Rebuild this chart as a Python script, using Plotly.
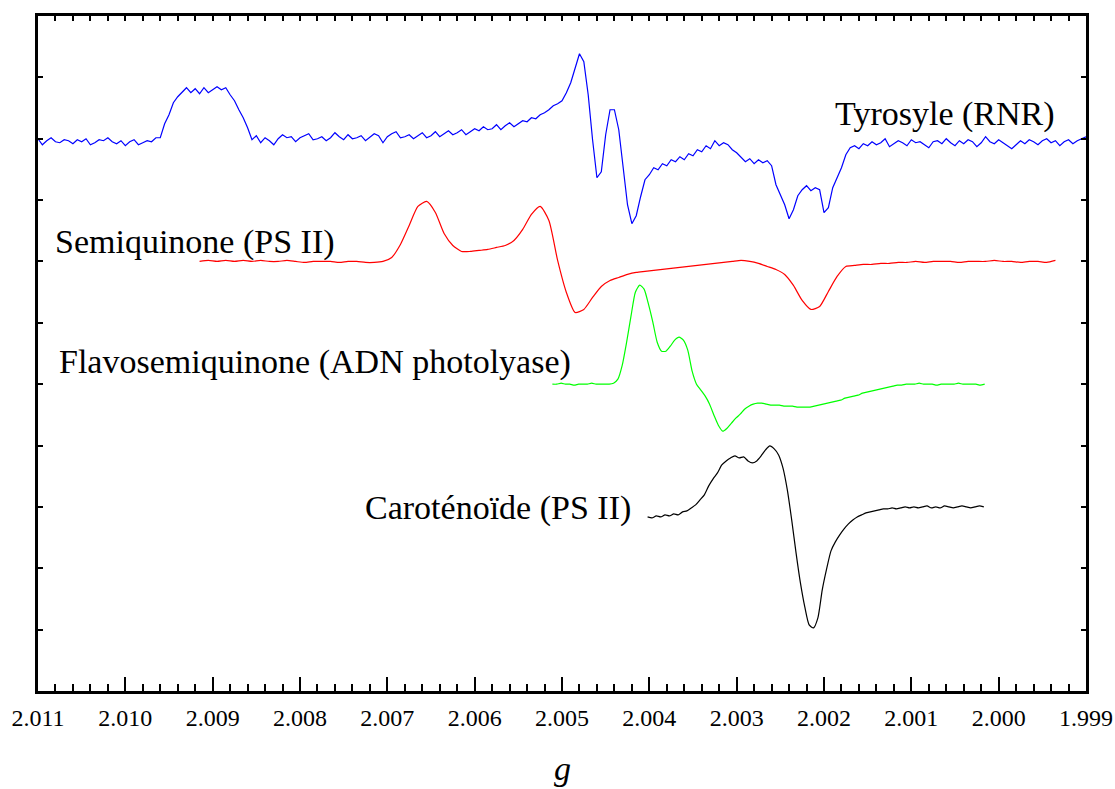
import numpy as np
import plotly.graph_objects as go

# ---- sweep of each spectrum (g value of first point, g step) ----
tyr_g0, tyr_dg = 2.01100, -0.00005
sq_g0, sq_dg = 2.00915, -0.0001
flv_g0, flv_dg = 2.00511, -0.00005
car_g0, car_dg = 2.00402, -0.00005

# ---- intensities (arbitrary units, relative to each baseline) ----
tyrosyl = [
    0, -6, -2, 1, -3, -4, -1, -2, -5, -1, -3, 0, -6, -4, -1, -2, 1, -3, -5, -2, -7, -3, -1, -6, -4, -2, -3, 1,
    1, 15, 24, 36, 42, 47, 51, 46, 50, 45, 51, 46, 49, 52, 49, 51, 44, 38, 29, 21, 11, -1, 3,
    -4, 1, -2, -6, 0, 4, 1, 2, -3, 1,
    3, 5, -1, 0, 2, -2, 1, 6, 2, -1,
    4, 0, 1, 3, -2, 2, 5, 3, -4, 2,
    5, 7, 1, 2, 4, 0, 3, 6, 1, 3,
    7, 2, 5, 8, 4, 6, 9, 4, 7, 10,
    8, 12, 9, 10, 14, 9, 13, 16, 12, 15,
    18, 17, 21, 20, 24, 26, 29, 33, 35, 38,
    46, 56, 71, 85, 77, 44, -1, -39, -33, 4,
    29, 29, 9, -31, -66, -85, -77, -58, -41, -36,
    -29, -31, -25, -27, -21, -23, -18, -21, -15, -17,
    -11, -13, -7, -10, -2, -7, -4, -6, -11, -14,
    -19, -23, -20, -25, -21, -24, -22, -27, -46, -57,
    -66, -80, -71, -57, -51, -47, -52, -49, -51, -74,
    -69, -49, -39, -29, -16, -9, -7, -10, -5, -7,
    -3, -6, -4, 0, -8, -5, -2, -4, -7, -1,
    -4, -3, -6, -9, -3, -2, -5, 0, -4, -7,
    -2, -5, -1, -3, -8, -4, 2, -3, -5, -1,
    -4, -7, -10, -6, -2, -5, -1, -3, -6, -2,
    0, -4, -2, -7, -3, -1, -5, -2, 0, 2,
]

semiquinone = [
    0, 1, 0, 1, 0, 1, 0, 1, 0, 0, 1, 0, -1, 0, 0, 0, -1, 0, 0, -1, -1, 0,
    4, 17, 36, 55, 60, 49, 28, 16, 10, 10, 11, 12, 14, 16, 21, 32, 47, 55, 41,
    1, -31, -51, -48, -36, -25, -19, -16, -13, -11, -10, -9, -8, -7, -6, -5, -4, -3, -2, -1,
    0, 1, 0, -2, -5, -8, -13, -24, -39, -48, -45, -30, -15, -5, -4, -3, -3, -2, -2, -1,
    -1, 0, -1, 0, 0, 0, -1, 0, 0, 0, 1, 0, 0, -1, 0, 0, -1, 1,
]

flavosemiquinone = [
    0, 0, 1, 0, 0, -1, 0, 0, 0, 1, 0, 0, 0, 0, 1, 5,
    19, 42, 68, 92, 99, 95, 80, 62, 42, 33, 33, 38, 44, 47, 44, 34, 13, 0,
    -6, -12, -20, -31, -41, -47, -44, -39, -34, -30, -25, -22, -20, -19, -19, -20, -21,
    -21, -21, -22, -22, -22, -23, -23, -23, -23, -22, -21, -20, -19, -18, -17, -16, -14,
    -13, -12, -11, -9, -8, -7, -6, -5, -4, -3, -2, -1, -1, 0,
    0, 0, 1, 0, 0, 0, -1, 0, 0, 0, 0, 1, 0, 0, 0, 0, -1, 0,
]

carotenoid = [
    -10, -11, -9, -10, -8, -9, -7, -8, -5, -4,
    -1, 2, 7, 12, 21, 28, 34, 42, 46, 49,
    51, 49, 50, 46, 44, 46, 51, 57, 61, 58,
    52, 39, 17, -13, -46, -76, -100, -118, -121, -111,
    -83, -62, -44, -35, -28, -22, -17, -13, -10, -8,
    -6, -5, -4, -3, -2, -2, -1, -2, -1, 0,
    -1, 0, -1, 0, 1, -1, 0, -1, 1, 0,
    -1, 0, 1, 0, -1, 0, 1, 0,
]

labels = ["Tyrosyle (RNR)", "Semiquinone (PS II)",
          "Flavosemiquinone (ADN photolyase)", "Caroténoïde (PS II)"]
baseline_ticks = [9, 7, 5, 3]          # vertical stacking (in y-tick units)
x_ticks = [2.011, 2.010, 2.009, 2.008, 2.007, 2.006, 2.005, 2.004,
           2.003, 2.002, 2.001, 2.000, 1.999]

# ---- styling ----
TICK = 675 / 11                # a.u. per y tick
N_YTICKS = 11
colors = ["#0000FF", "#FF0000", "#00FF00", "#000000"]
shapes = ["linear", "spline", "spline", "spline"]
FONT = "Liberation Serif"

series = [
    (tyr_g0, tyr_dg, tyrosyl),
    (sq_g0, sq_dg, semiquinone),
    (flv_g0, flv_dg, flavosemiquinone),
    (car_g0, car_dg, carotenoid),
]

fig = go.Figure()
for (g0, dg, vals), base, col, shp, name in zip(series, baseline_ticks, colors, shapes, labels):
    g = g0 + dg * np.arange(len(vals))
    y = base * TICK + np.array(vals, dtype=float)
    fig.add_trace(go.Scatter(x=g, y=y, mode="lines", name=name,
                             line=dict(color=col, width=1.2, shape=shp, smoothing=0.6),
                             hoverinfo="skip"))

# empty trace to activate the top (mirror) axis with short ticks
fig.add_trace(go.Scatter(x=[], y=[], xaxis="x2", yaxis="y", showlegend=False))

# series labels
label_pos = [(0.7586, 0.855), (0.0143, 0.6652), (0.0181, 0.4874), (0.3101, 0.2711)]
for name, (px, py) in zip(labels, label_pos):
    fig.add_annotation(text=name, xref="paper", yref="paper", x=px, y=py,
                       xanchor="left", yanchor="middle", showarrow=False,
                       font=dict(family=FONT, size=34, color="black"))

fig.add_annotation(text="<i>g</i>", xref="paper", yref="paper", x=0.5, y=-0.1452,
                   xanchor="center", yanchor="bottom", showarrow=False,
                   font=dict(family=FONT, size=34, color="black"))

xr = [x_ticks[0] + 1e-9, x_ticks[-1] - 1e-9]
fig.update_layout(
    width=1115, height=789,
    margin=dict(l=38, r=29, t=16, b=98),
    paper_bgcolor="white", plot_bgcolor="white",
    showlegend=False,
    font=dict(family=FONT, color="black"),
    xaxis=dict(range=xr, tickmode="array", tickvals=x_ticks,
               ticktext=[f"{v:.3f}" for v in x_ticks],
               ticks="inside", ticklen=14, tickwidth=2, tickcolor="black",
               showline=True, linewidth=3, linecolor="black", mirror=True,
               showgrid=False, zeroline=False, automargin=False,
               tickfont=dict(family=FONT, size=24, color="black"),
               ticklabelstandoff=3,
               minor=dict(tickmode="linear", tick0=2.0, dtick=0.0002, ticks="inside",
                          ticklen=7, tickwidth=2, tickcolor="black", showgrid=False)),
    xaxis2=dict(range=xr, overlaying="x", side="top", tickmode="linear",
                tick0=2.0, dtick=0.0002, ticks="inside", ticklen=5, tickwidth=1.5,
                tickcolor="black", showticklabels=False, showgrid=False,
                zeroline=False, showline=False, automargin=False),
    yaxis=dict(range=[0, N_YTICKS * TICK], tickmode="linear", tick0=0, dtick=TICK,
               ticks="inside", ticklen=5, tickwidth=1.5, tickcolor="black",
               showticklabels=False, showline=True, linewidth=3, linecolor="black",
               mirror="ticks", showgrid=False, zeroline=False, automargin=False),
)

fig.write_html("out.html")
